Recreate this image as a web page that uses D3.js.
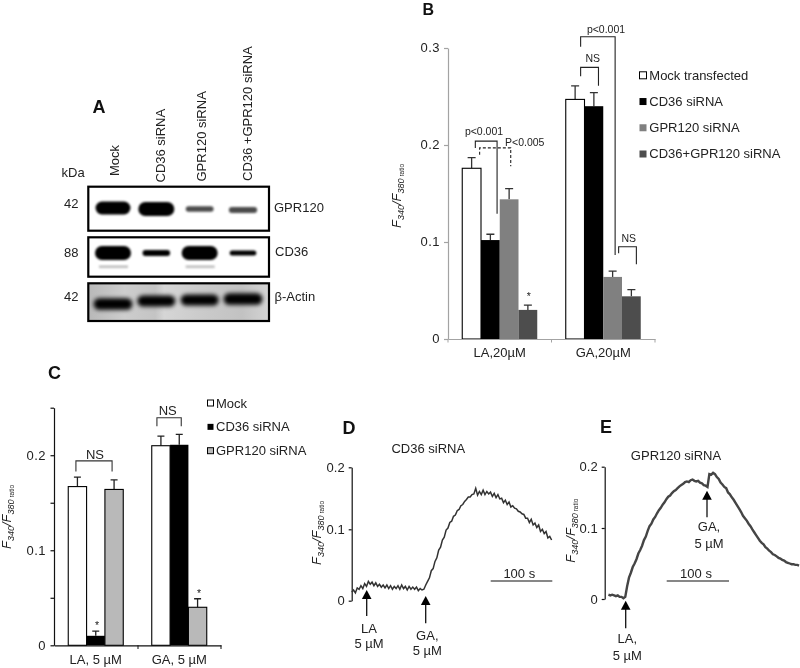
<!doctype html>
<html>

<head>
    <meta charset="utf-8">
    <title>siRNA panels</title>
    <style>
    body {
        margin: 0;
        background: #fff;
    }

    svg {
        display: block;
        filter: blur(0.35px);
    }

    text {
        font-family: "Liberation Sans", Arial, sans-serif;
        font-size: 13px;
        fill: #222;
    }

    .panel-letter {
        font-size: 18px;
        font-weight: bold;
        fill: #111;
    }

    .small {
        font-size: 10.5px;
    }
    </style>
    <script src="https://cdnjs.cloudflare.com/ajax/libs/d3/7.8.5/d3.min.js"></script>
</head>

<body>
    <script>
    // panel A, band density per lane (0-1)
    var lanes = ["Mock", "CD36 siRNA", "GPR120 siRNA", "CD36 +GPR120 siRNA"];
    var gpr120Bands = [0.9, 1, 0.26, 0.3];
    var cd36Bands = [1, 0.3, 1, 0.22];
    var cd36LowerBands = [0.3, 0, 0.3, 0];
    var actinBands = [0.8, 0.75, 0.75, 0.8];
    var kdaLabels = ["42", "88", "42"];
    var blotNames = ["GPR120", "CD36", "β-Actin"];

    // panel B
    var bGroups = ["LA,20µM", "GA,20µM"];
    var bSeries = ["Mock transfected", "CD36 siRNA", "GPR120 siRNA", "CD36+GPR120 siRNA"];
    var bColors = ["#fff", "#000", "#808080", "#4d4d4d"];
    var bMeansLA = [0.176, 0.102, 0.144, 0.030];
    var bMeansGA = [0.247, 0.240, 0.064, 0.044];
    var bTopsLA = [0.187, 0.108, 0.155, 0.035];
    var bTopsGA = [0.261, 0.254, 0.070, 0.051];

    // panel C
    var cGroups = ["LA, 5 µM", "GA, 5 µM"];
    var cSeries = ["Mock", "CD36 siRNA", "GPR120 siRNA"];
    var cColors = ["#fff", "#000", "#b9b9b9"];
    var cMeansLA = [0.167, 0.010, 0.164];
    var cMeansGA = [0.210, 0.211, 0.040];
    var cTopsLA = [0.177, 0.015, 0.174];
    var cTopsGA = [0.220, 0.222, 0.049];

    // panels D and E, one reading every 3 s
    var sampleStep = 3;
    var dTrace = [
        .012, .015, .011, .018, .016, .021, .017, .024, .020, .027, .023, .026, .021, .025, .020, .023,
        .019, .022, .018, .022, .017, .021, .016, .020, .017, .021, .016, .022, .017, .020, .015, .020,
        .016, .019, .016, .019, .014, .017, .015, .016,
        .022, .027, .032, .042, .045, .055, .060, .071, .075, .085,
        .089, .099, .102, .111, .113, .121, .123, .130, .132, .138,
        .140, .145, .148, .152, .152, .156, .157, .166, .155, .161,
        .156, .163, .156, .161, .157, .160, .153, .158, .151, .156,
        .149, .150, .143, .147, .140, .144, .136, .138, .134, .133,
        .129, .128, .125, .124, .118, .118, .111, .116, .107, .110,
        .103, .107, .097, .100, .094, .097, .088, .090, .085
    ];
    var eStart = 6;
    var eTrace = [
        .006, .005, .006, .005, .004, .005, .003, .003, .001, .003, .018, .030, .037, .045, .050, .056,
        .064, .069, .075, .083, .088, .096, .103, .107, .114, .118, .124, .129, .133, .138, .142, .147,
        .151, .153, .157, .160, .162, .165, .168, .170, .172, .175, .176, .175, .178, .179, .177, .176,
        .177, .174, .173, .170, .169, .167, .188, .187, .190, .188, .183, .180, .174, .171, .167, .165,
        .158, .155, .150, .146, .141, .136, .131, .126, .120, .116, .112, .107, .103, .098, .094, .090,
        .086, .082, .079, .077, .073, .071, .068, .066, .063, .062, .060, .058, .057, .055, .054, .052,
        .051, .050, .049, .049, .048, .048, .047
    ];

    var svg = d3.select("body").append("svg")
        .attr("width", 800)
        .attr("height", 668);

    var defs = svg.append("defs");
    defs.append("filter").attr("id", "blot-blur")
        .attr("x", "-20%").attr("y", "-60%").attr("width", "140%").attr("height", "220%")
        .append("feGaussianBlur").attr("stdDeviation", 1.3);
    defs.append("filter").attr("id", "actin-blur")
        .attr("x", "-20%").attr("y", "-80%").attr("width", "140%").attr("height", "260%")
        .append("feGaussianBlur").attr("stdDeviation", 2.1);
    defs.append("filter").attr("id", "trace-blur")
        .append("feGaussianBlur").attr("stdDeviation", 0.35);
    var actinFill = defs.append("linearGradient").attr("id", "actin-bg");
    [[0, "#b8b8b8"], [0.2, "#cdcdcd"], [0.37, "#c4c4c4"], [0.42, "#d6d6d6"], [0.62, "#cbcbcb"], [0.85, "#c2c2c2"], [1, "#d4d4d4"]]
    .forEach(function(s) {
        actinFill.append("stop").attr("offset", s[0]).attr("stop-color", s[1]);
    });

    function put(x, y, str, anchor, cls) {
        return svg.append("text")
            .attr("x", x).attr("y", y)
            .attr("text-anchor", anchor || "start")
            .attr("class", cls || null)
            .text(str);
    }

    // F340/F380 ratio, rotated, subscripts drop to the right
    function ratioLabel(x, y) {
        var t = svg.append("text")
            .attr("transform", "translate(" + x + "," + y + ")rotate(-90)");
        t.append("tspan").style("font-style", "italic").text("F");
        t.append("tspan").attr("dy", 3).style("font-size", "9px").style("font-style", "italic").text("340");
        t.append("tspan").attr("dy", -3).style("font-style", "italic").text("/F");
        t.append("tspan").attr("dy", 3).style("font-size", "9px").style("font-style", "italic").text("380");
        t.append("tspan").style("font-size", "6.5px").text(" ratio");
    }

    function bracket(pts, dash, color) {
        svg.append("path")
            .datum(pts)
            .attr("d", d3.line())
            .attr("fill", "none")
            .attr("stroke", color || "#222")
            .attr("stroke-width", 1.1)
            .attr("stroke-dasharray", dash || null);
    }

    function arrow(x, tip, base) {
        svg.append("line")
            .attr("x1", x).attr("x2", x)
            .attr("y1", tip + 6).attr("y2", base)
            .attr("stroke", "#111").attr("stroke-width", 1.3);
        svg.append("path")
            .attr("d", d3.line()([[x, tip], [x + 4.8, tip + 9], [x - 4.8, tip + 9]]) + "Z")
            .attr("fill", "#000");
    }

    function styleAxis(g, color, width) {
        g.selectAll("path,line").attr("stroke", color).attr("stroke-width", width);
        g.selectAll("text").style("letter-spacing", "0.5px");
    }

    // ---- A ----
    put(92.5, 113, "A", "start", "panel-letter");
    var laneX = d3.scalePoint().domain(lanes).range([113, 243]);
    var laneLabelX = d3.scaleOrdinal().domain(lanes).range([119, 165, 206, 252]);
    var laneLabelY = d3.scaleOrdinal().domain(lanes).range([176, 182.5, 181.5, 181]);

    lanes.forEach(function(d) {
        svg.append("text")
            .attr("transform", "translate(" + laneLabelX(d) + "," + laneLabelY(d) + ")rotate(-90)")
            .text(d);
    });

    var bandHeight = d3.scaleLinear().domain([0, 1]).range([2.5, 14]);
    var blotRows = [
        { bands: gpr120Bands, top: 186.7, bottom: 230.7, mid: [208, 209, 209, 210], wide: [25, 36], fill: "#fff", blur: "blot-blur", faint: true },
        { bands: cd36Bands, top: 237.3, bottom: 276.7, mid: [253, 253, 253, 253], wide: [24, 36], fill: "#fff", blur: "blot-blur", faint: false },
        { bands: actinBands, top: 283.3, bottom: 321, mid: [304, 301, 300, 299], wide: [26, 42], fill: "url(#actin-bg)", blur: "actin-blur", faint: false }
    ];

    blotRows.forEach(function(row, r) {
        var bw = d3.scaleLinear().domain([0, 1]).range(row.wide);
        svg.append("rect")
            .attr("x", 88.3).attr("y", row.top)
            .attr("width", 180.7).attr("height", row.bottom - row.top)
            .attr("fill", row.fill);

        if (r === 1) {
            // the faint lower band under CD36
            svg.selectAll(null).data(cd36LowerBands).enter()
                .append("rect")
                .attr("x", function(d, i) { return laneX(lanes[i]) - 14; })
                .attr("y", 265.5)
                .attr("width", 29)
                .attr("height", 2.5)
                .attr("fill", "#555")
                .attr("opacity", function(d) { return d * 1.3; })
                .attr("filter", "url(#blot-blur)");
        }

        svg.selectAll(null).data(row.bands).enter().append("rect")
            .attr("x", function(d, i) { return laneX(lanes[i]) - bw(d) / 2; })
            .attr("y", function(d, i) { return row.mid[i] - bandHeight(d) / 2; })
            .attr("width", function(d) { return bw(d); })
            .attr("height", function(d) { return bandHeight(d); })
            .attr("rx", function(d) { return bandHeight(d) / 2; })
            .attr("fill", "#050505")
            .attr("opacity", function(d) { return row.faint && d < 0.4 ? 0.7 : 1; })
            .attr("filter", "url(#" + row.blur + ")");

        svg.append("rect")
            .attr("x", 88.3).attr("y", row.top)
            .attr("width", 180.7).attr("height", row.bottom - row.top)
            .attr("fill", "none")
            .attr("stroke", "#000")
            .attr("stroke-width", 2.2);
    });

    put(61.5, 176.5, "kDa");
    [208, 257, 301].forEach(function(y, i) { put(64, y, kdaLabels[i]); });
    [[274, 211.7], [275, 255.7], [274.5, 300.7]].forEach(function(p, i) { put(p[0], p[1], blotNames[i]); });

    // ---- B ----
    put(422.5, 15, "B", "start", "panel-letter").style("font-size", "16px");
    var bY = d3.scaleLinear().domain([0, 0.3]).range([339, 48]);
    var bX0 = d3.scaleBand().domain(bGroups).range([448, 655]);
    var bX1 = d3.scaleBand().domain(bSeries).range([-37.5, 37.5]);

    var bRows = [
        { group: bGroups[0], means: bMeansLA, tops: bTopsLA },
        { group: bGroups[1], means: bMeansGA, tops: bTopsGA }
    ];

    function drawBars(rows, series, colors, x0, x1, y, capHalf, errColor) {
        rows.forEach(function(row) {
            var g = svg.append("g").attr("transform", "translate(" + x0(row.group) + ",0)");
            var off = x0.bandwidth() / 2;
            g.selectAll("line").data(row.tops).enter().append("path")
                .attr("d", function(d, i) {
                    var c = off + x1(series[i]) + x1.bandwidth() / 2;
                    return "M" + c + "," + y(row.means[i]) + "V" + y(d) + "M" + (c - capHalf) + "," + y(d) + "H" + (c + capHalf);
                })
                .attr("fill", "none")
                .attr("stroke", errColor)
                .attr("stroke-width", 1.3);
            g.selectAll("rect").data(row.means).enter().append("rect")
                .attr("x", function(d, i) { return off + x1(series[i]); })
                .attr("y", function(d) { return y(d); })
                .attr("width", x1.bandwidth())
                .attr("height", function(d) { return y(0) - y(d); })
                .attr("fill", function(d, i) { return colors[i]; })
                .attr("stroke", function(d, i) { return i === 0 ? "#000" : colors[i] === "#b9b9b9" ? "#000" : "none"; })
                .attr("stroke-width", 1.1);
        });
    }

    drawBars(bRows, bSeries, bColors, bX0, bX1, bY, 4, "#333");

    var bAxisY = svg.append("g").attr("transform", "translate(448,0)")
        .call(d3.axisLeft(bY).tickValues([0, 0.1, 0.2, 0.3]).tickSize(4).tickSizeOuter(0)
            .tickFormat(function(d) { return d === 0 ? "0" : d3.format(".1f")(d); }));
    styleAxis(bAxisY, "#a3a3a3", 1.2);
    bAxisY.selectAll("text").attr("x", -8).attr("dy", "0.3em");

    var bAxisX = svg.append("g").attr("transform", "translate(0,339)")
        .call(d3.axisBottom(bX0).tickSize(0).tickPadding(9));
    styleAxis(bAxisX, "#a3a3a3", 1.2);
    bAxisX.selectAll("text").style("letter-spacing", null).attr("dy", "0.72em");
    svg.selectAll(null).data([448, 551.5, 655]).enter().append("line")
        .attr("x1", function(d) { return d; }).attr("x2", function(d) { return d; })
        .attr("y1", 339).attr("y2", 342.5)
        .attr("stroke", "#a3a3a3");

    ratioLabel(400.7, 228);

    var bCenter = function(g, i) { return bX0(bGroups[g]) + bX0.bandwidth() / 2 + bX1(bSeries[i]) + bX1.bandwidth() / 2; };

    bracket([[bCenter(0, 0) + 3.7, bY(0.197)], [bCenter(0, 0) + 3.7, bY(0.204)], [bCenter(0, 1) + 6.7, bY(0.204)], [bCenter(0, 1) + 6.7, bY(0.129)]]);
    bracket([[bCenter(0, 0) + 8, bY(0.190)], [bCenter(0, 0) + 8, bY(0.197)], [bCenter(0, 2) + 1.6, bY(0.197)], [bCenter(0, 2) + 1.6, bY(0.178)]], "3,2");
    put(484, 135, "p<0.001", "middle", "small");
    put(505, 146, "P<0.005", "start", "small");
    bracket([[bCenter(1, 0) + 5.5, bY(0.271)], [bCenter(1, 0) + 5.5, bY(0.280)], [bCenter(1, 1) + 4.6, bY(0.280)], [bCenter(1, 1) + 4.6, bY(0.261)]], null);
    bracket([[bCenter(1, 0) + 5.5, 46.7], [bCenter(1, 0) + 5.5, 36.7], [bCenter(1, 2) + 2.5, 36.7], [bCenter(1, 2) + 2.5, 255]]);
    bracket([[bCenter(1, 2) + 6, 253.3], [bCenter(1, 2) + 6, 246.7], [bCenter(1, 3) + 5, 246.7], [bCenter(1, 3) + 5, 264.3]]);
    put(606, 32.7, "p<0.001", "middle", "small");
    put(592.7, 61.7, "NS", "middle", "small");
    put(628.7, 242.3, "NS", "middle", "small");
    put(528.7, 300, "*", "middle", "small");

    var bLegendY = d3.scalePoint().domain(bSeries).range([75.3, 154]);
    bSeries.forEach(function(d, i) {
        svg.append("rect")
            .attr("x", 639.5).attr("y", bLegendY(d) - 3.5)
            .attr("width", 7).attr("height", 7)
            .attr("fill", bColors[i])
            .attr("stroke", i === 0 ? "#000" : "none");
        put(649.3, bLegendY(d) + 4.2, d);
    });

    // ---- C ----
    put(48, 379, "C", "start", "panel-letter");
    var cY = d3.scaleLinear().domain([0, 0.25]).range([645.3, 407.7]);
    var cX0 = d3.scaleBand().domain(cGroups).range([54, 221]);
    var cX1 = d3.scaleBand().domain(cSeries).range([-27.5, 27.5]);

    var cRows = [
        { group: cGroups[0], means: cMeansLA, tops: cTopsLA },
        { group: cGroups[1], means: cMeansGA, tops: cTopsGA }
    ];
    drawBars(cRows, cSeries, cColors, cX0, cX1, cY, 3.5, "#222");

    var cAxisY = svg.append("g").attr("transform", "translate(54,0)")
        .call(d3.axisLeft(cY).tickValues([0, 0.05, 0.1, 0.15, 0.2, 0.25]).tickSize(3.5).tickSizeOuter(0)
            .tickFormat(function(d) {
                if (d === 0) return "0";
                return Math.round(d * 100) % 10 === 0 ? d3.format(".1f")(d) : "";
            }));
    styleAxis(cAxisY, "#111", 1.2);
    cAxisY.selectAll("text").attr("x", -8).attr("dy", "0.3em");

    var cAxisX = svg.append("g").attr("transform", "translate(0,645.3)")
        .call(d3.axisBottom(cX0).tickSize(0).tickPadding(9));
    styleAxis(cAxisX, "#111", 1.2);
    cAxisX.selectAll("text").style("letter-spacing", null).attr("dy", "0.72em");
    svg.selectAll(null).data([138, 221]).enter().append("line")
        .attr("x1", function(d) { return d; }).attr("x2", function(d) { return d; })
        .attr("y1", 645.3).attr("y2", 649)
        .attr("stroke", "#111");

    ratioLabel(11, 549);

    var cCenter = function(g, i) { return cX0(cGroups[g]) + cX0.bandwidth() / 2 + cX1(cSeries[i]) + cX1.bandwidth() / 2; };
    bracket([[cCenter(0, 0) - 1.5, cY(0.183)], [cCenter(0, 0) - 1.5, cY(0.194)], [cCenter(0, 2) - 2, cY(0.194)], [cCenter(0, 2) - 2, cY(0.183)]], null, "#333");
    bracket([[cCenter(1, 0) - 4, cY(0.2305)], [cCenter(1, 0) - 4, cY(0.2395)], [cCenter(1, 1) + 2, cY(0.2395)], [cCenter(1, 1) + 2, cY(0.2305)]], null, "#333");
    put(95, 459, "NS", "middle");
    put(167.7, 415, "NS", "middle");
    put(97, 629, "*", "middle", "small");
    put(199, 597, "*", "middle", "small");

    var cLegendY = d3.scalePoint().domain(cSeries).range([403, 450.7]);
    cSeries.forEach(function(d, i) {
        svg.append("rect")
            .attr("x", 207.5).attr("y", cLegendY(d) - 3)
            .attr("width", 6).attr("height", 6)
            .attr("fill", cColors[i])
            .attr("stroke", i === 1 ? "none" : "#000");
        put(216, cLegendY(d) + 4.5, d);
    });

    // ---- D and E ----
    function drawTrace(opts) {
        var y = d3.scaleLinear().domain([0, 0.1, 0.2]).range(opts.yRange);
        var x = d3.scaleLinear().domain([0, 100]).range([opts.axisX, opts.axisX + opts.pxPer100]);
        var line = d3.line()
            .x(function(d, i) { return x(opts.start + i * sampleStep); })
            .y(function(d) { return y(d); });

        var a = svg.append("g").attr("transform", "translate(" + opts.axisX + ",0)")
            .call(d3.axisLeft(y).tickValues([0, 0.1, 0.2]).tickSize(3).tickSizeOuter(0).tickPadding(4)
                .tickFormat(function(d) { return d === 0 ? "0" : d3.format(".1f")(d); }));
        styleAxis(a, "#111", 1.2);
        a.selectAll("text").style("letter-spacing", null).attr("dy", "0.32em");

        svg.append("path")
            .datum(opts.values)
            .attr("d", line)
            .attr("fill", "none")
            .attr("stroke", opts.stroke)
            .attr("stroke-width", opts.width)
            .attr("filter", "url(#trace-blur)");
    }

    put(342.5, 434, "D", "start", "panel-letter");
    put(428.3, 452.7, "CD36 siRNA", "middle");
    drawTrace({ values: dTrace, start: 0, axisX: 351.7, pxPer100: 61.7, yRange: [600.7, 529.3, 467.3], stroke: "#333", width: 1.5 });
    ratioLabel(321, 565);
    arrow(366.7, 590, 616);
    put(369, 633.3, "LA", "middle");
    put(369, 648.3, "5 µM", "middle");
    arrow(425.7, 596, 623.3);
    put(427.3, 640, "GA,", "middle");
    put(427.3, 655, "5 µM", "middle");
    bracket([[490.7, 581], [552.3, 581]], null, "#111");
    put(519.3, 578.3, "100 s", "middle");

    put(600, 433.3, "E", "start", "panel-letter");
    put(676, 460, "GPR120 siRNA", "middle");
    drawTrace({ values: eTrace, start: eStart, axisX: 604.7, pxPer100: 62.3, yRange: [599, 528, 466.7], stroke: "#444", width: 2.4 });
    ratioLabel(574.7, 562.7);
    arrow(625.7, 600.7, 628.3);
    put(627.3, 643.3, "LA,", "middle");
    put(627.3, 660, "5 µM", "middle");
    arrow(707, 490.7, 517.3);
    put(709, 530.7, "GA,", "middle");
    put(709, 547.7, "5 µM", "middle");
    bracket([[666.7, 581], [729, 581]], null, "#111");
    put(696, 577.7, "100 s", "middle");
    </script>
</body>

</html>
